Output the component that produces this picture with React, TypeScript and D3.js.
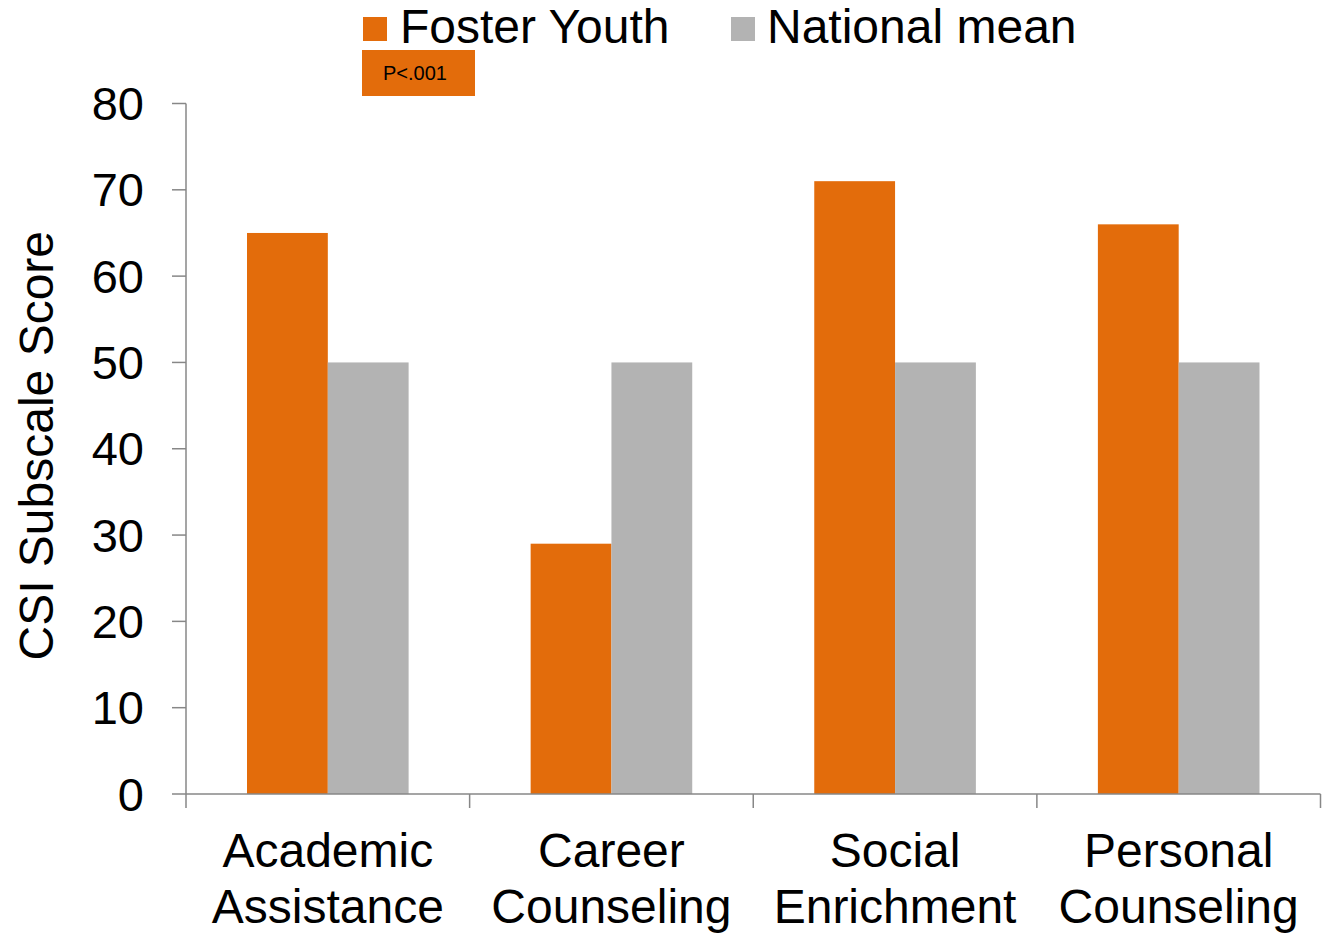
import React from "react";
import * as d3 from "d3";

const categories: string[][] = [
  ["Academic", "Assistance"],
  ["Career", "Counseling"],
  ["Social", "Enrichment"],
  ["Personal", "Counseling"],
];
const seriesNames = ["Foster Youth", "National mean"];
const fosterYouth = [65, 29, 71, 66];
const nationalMean = [50, 50, 50, 50];
const yTicks = [0, 10, 20, 30, 40, 50, 60, 70, 80];
const yTitle = "CSI Subscale Score";
const noteText = "P<.001";

const ORANGE = "#E36C0B";
const GRAY = "#B3B3B3";
const AXIS = "#878787";
const FONT = "'Liberation Sans', Arial, sans-serif";

export default function App() {
  const width = 1328;
  const height = 934;
  const left = 186;
  const right = 1320.5;
  const top = 103.5;
  const bottom = 794;

  const keys = categories.map((c) => c.join(" "));
  const x0 = d3.scaleBand<string>().domain(keys).range([left, right]).paddingInner(0).paddingOuter(0);
  const x1 = d3
    .scaleBand<string>()
    .domain(seriesNames)
    .range([0, x0.bandwidth()])
    .paddingOuter(0.755)
    .paddingInner(0);
  const y = d3.scaleLinear().domain([0, 80]).range([bottom, top]);

  const series = [fosterYouth, nationalMean];
  const colors = [ORANGE, GRAY];
  const boundaries = d3.range(keys.length + 1).map((i) => left + i * x0.bandwidth());

  return (
    <svg width={width} height={height} style={{ display: "block", position: "absolute", left: 0, top: 0 }} fontFamily={FONT}>
      <rect width={width} height={height} fill="#fff" />

      {/* bars */}
      {keys.map((k, i) =>
        seriesNames.map((s, j) => (
          <rect
            key={k + s}
            x={(x0(k) ?? 0) + (x1(s) ?? 0)}
            y={y(series[j][i])}
            width={x1.bandwidth()}
            height={bottom - y(series[j][i])}
            fill={colors[j]}
          />
        ))
      )}

      {/* y axis */}
      <line x1={left} x2={left} y1={top} y2={bottom} stroke={AXIS} strokeWidth={1.5} />
      {yTicks.map((t) => (
        <g key={t}>
          <line x1={left - 14} x2={left} y1={y(t)} y2={y(t)} stroke={AXIS} strokeWidth={1.5} />
          <text x={144} y={y(t) + 16.5} textAnchor="end" fontSize={47} fill="#000">
            {t}
          </text>
        </g>
      ))}
      <text
        transform={`translate(53,${(top + bottom) / 2 - 3}) rotate(-90)`}
        textAnchor="middle"
        fontSize={48}
        fill="#000"
      >
        {yTitle}
      </text>

      {/* x axis */}
      <line x1={left} x2={right} y1={bottom} y2={bottom} stroke={AXIS} strokeWidth={1.5} />
      {boundaries.map((b, i) => (
        <line key={i} x1={b} x2={b} y1={bottom} y2={bottom + 14} stroke={AXIS} strokeWidth={1.5} />
      ))}
      {keys.map((k, i) => (
        <text key={k} textAnchor="middle" fontSize={48} fill="#000">
          {categories[i].map((line, li) => (
            <tspan key={li} x={(x0(k) ?? 0) + x0.bandwidth() / 2} y={867 + li * 56}>
              {line}
            </tspan>
          ))}
        </text>
      ))}

      {/* legend */}
      <rect x={363} y={17} width={24} height={24} fill={ORANGE} />
      <text x={400} y={43} fontSize={48} fill="#000">
        {seriesNames[0]}
      </text>
      <rect x={731} y={17} width={24} height={24} fill={GRAY} />
      <text x={767} y={43} fontSize={48} fill="#000">
        {seriesNames[1]}
      </text>

      {/* significance note */}
      <rect x={362} y={50} width={113} height={46} fill={ORANGE} />
      <text x={383} y={80} fontSize={20} fill="#000">
        {noteText}
      </text>
    </svg>
  );
}
